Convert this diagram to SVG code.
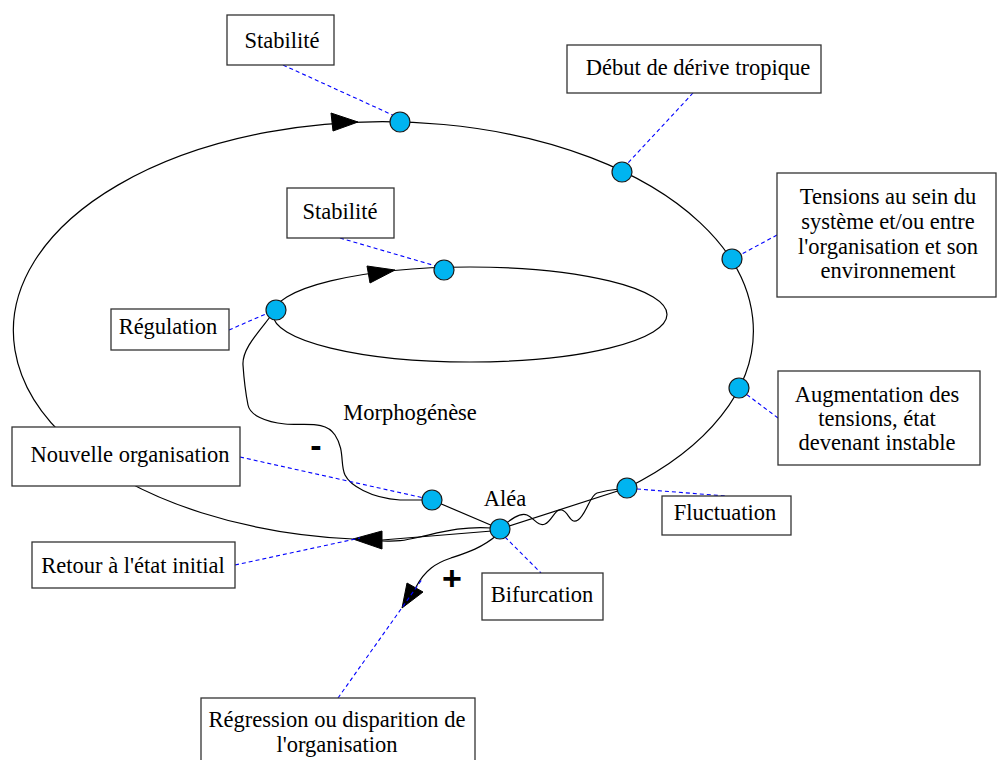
<svg xmlns="http://www.w3.org/2000/svg" width="997" height="760" viewBox="0 0 997 760">
<style>
.curve{fill:none;stroke:#000;stroke-width:1.2}
.arrow{fill:#000;stroke:#000;stroke-width:1}
.link{fill:none;stroke:#0000ff;stroke-width:1.1;stroke-dasharray:4 3}
.pt{fill:#00b4f0;stroke:#1a1a1a;stroke-width:1.2}
.box{fill:#fff;stroke:#333;stroke-width:1.3}
.lbl{font-family:'Liberation Serif','DejaVu Serif',serif;font-size:22.5px;fill:#000;text-anchor:middle}
.sign{font-family:'Liberation Sans','DejaVu Sans',sans-serif;font-weight:bold;font-size:34px;fill:#000;text-anchor:middle}
</style>
<rect width="997" height="760" fill="#fff"/>
<g id="connectors">
  <path class="curve" d="M353,539 A370 209 0 1 1 627,488"/>
  <ellipse class="curve" cx="470" cy="314.5" rx="197" ry="47.5"/>
  <path class="curve" d="M627,488 L500,529"/>
  <path class="curve" d="M500,528 C510,520 520,512 527,515 S538,527 545,524 S555,508 562,510 S570,525 578,520 S590,495 597,493 S608,490 620,489"/>
  <path class="curve" d="M492,531 L382,540"/>
  <path class="curve" d="M492,528 C462,526 442,532 420,537 S395,541 382,541"/>
  <path class="curve" d="M432,500 L500,529"/>
  <path class="curve" d="M497,535 C482,548 466,553 451,558 S425,570 416,587"/>
  <path class="curve" d="M270,317 C256,335 242,350 243,365 S246,395 248,405 S265,422 285,424 S325,420 335,435 S340,465 345,475 S370,498 400,500 L422,500"/>
  <polygon class="arrow" points="358,122 331,113 333,131"/>
  <polygon class="arrow" points="353,539 382,531 382,549"/>
  <polygon class="arrow" points="395,270 367,266 370,283"/>
  <polygon class="arrow" points="402,608 407,583 423,592"/>
  <line class="link" x1="283" y1="65" x2="397" y2="117"/>
  <line class="link" x1="693" y1="93" x2="627" y2="164"/>
  <line class="link" x1="777" y1="235" x2="740" y2="255"/>
  <line class="link" x1="778" y1="418" x2="746" y2="394"/>
  <line class="link" x1="637" y1="489" x2="726" y2="496"/>
  <line class="link" x1="505" y1="537" x2="541" y2="573"/>
  <line class="link" x1="240" y1="457" x2="424" y2="498"/>
  <line class="link" x1="235" y1="565" x2="360" y2="538"/>
  <line class="link" x1="229" y1="330" x2="268" y2="313"/>
  <line class="link" x1="340" y1="238" x2="436" y2="266"/>
  <line class="link" x1="338" y1="698" x2="423" y2="578"/>
</g>
<g id="points">
  <circle class="pt" cx="400" cy="122" r="10"/>
  <circle class="pt" cx="622" cy="172" r="10"/>
  <circle class="pt" cx="732" cy="259" r="10"/>
  <circle class="pt" cx="739" cy="388" r="10"/>
  <circle class="pt" cx="627" cy="488" r="10"/>
  <circle class="pt" cx="500" cy="529" r="10"/>
  <circle class="pt" cx="432" cy="500" r="10"/>
  <circle class="pt" cx="276" cy="310" r="10"/>
  <circle class="pt" cx="444" cy="270" r="10"/>
</g>
<g id="stabilite-haut"><rect class="box" x="227" y="15" width="107" height="50"/><text class="lbl" x="282" y="48">Stabilité</text></g>
<g id="debut-derive"><rect class="box" x="567" y="45" width="254" height="48"/><text class="lbl" x="698" y="75">Début de dérive tropique</text></g>
<g id="tensions"><rect class="box" x="777" y="173" width="219" height="124"/><text class="lbl" x="888"><tspan x="888" y="204">Tensions au sein du</tspan><tspan x="888" y="229">système et/ou entre</tspan><tspan x="888" y="254">l'organisation et son</tspan><tspan x="888" y="278">environnement</tspan></text></g>
<g id="augmentation"><rect class="box" x="778" y="371" width="202" height="94"/><text class="lbl" x="877"><tspan x="877" y="402">Augmentation des</tspan><tspan x="877" y="426">tensions, état</tspan><tspan x="877" y="450">devenant instable</tspan></text></g>
<g id="fluctuation"><rect class="box" x="662" y="496" width="129" height="39"/><text class="lbl" x="725" y="520">Fluctuation</text></g>
<g id="bifurcation"><rect class="box" x="482" y="573" width="121" height="47"/><text class="lbl" x="542" y="602">Bifurcation</text></g>
<g id="regression"><rect class="box" x="201" y="698" width="274" height="75"/><text class="lbl" x="337"><tspan x="337" y="727">Régression ou disparition de</tspan><tspan x="337" y="752">l'organisation</tspan></text></g>
<g id="retour"><rect class="box" x="32" y="542" width="203" height="46"/><text class="lbl" x="133" y="573">Retour à l'état initial</text></g>
<g id="nouvelle-organisation"><rect class="box" x="12" y="427" width="228" height="59"/><text class="lbl" x="130" y="462">Nouvelle organisation</text></g>
<g id="regulation"><rect class="box" x="111" y="309" width="118" height="41"/><text class="lbl" x="168" y="334">Régulation</text></g>
<g id="stabilite-interne"><rect class="box" x="287" y="188" width="107" height="50"/><text class="lbl" x="340" y="219">Stabilité</text></g>
<g id="labels">
  <text class="lbl" x="505" y="506">Aléa</text>
  <text class="lbl" x="410" y="420">Morphogénèse</text>
  <text class="sign" x="316" y="457">-</text>
  <text class="sign" x="452" y="590">+</text>
</g>
</svg>
